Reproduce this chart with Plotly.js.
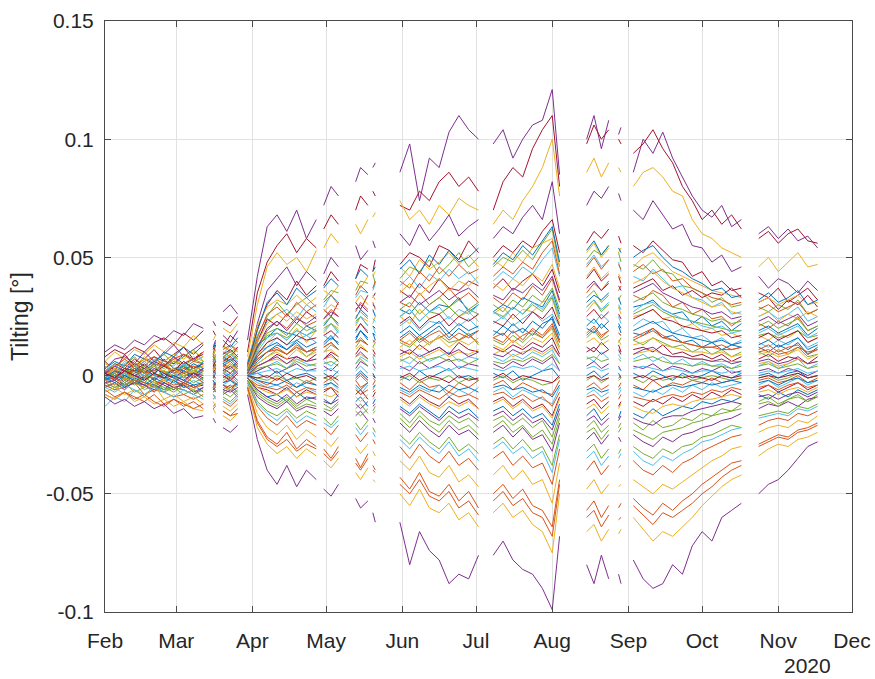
<!DOCTYPE html>
<html><head><meta charset="utf-8">
<script src="https://cdn.plot.ly/plotly-3.0.1.min.js"></script>
<style>html,body{margin:0;padding:0;background:#fff}#chart{width:875px;height:679px}</style>
</head><body><div id="chart"></div>
<script>
// Measurement days (offset in days from 2020-02-01), one array per continuous data block
const segFeb  = [0,4,8,12,16,20,24,28,32,36,40];
const segMar1 = [44,45];
const segMar2 = [48,51,54];
const segApr  = [58,62,66,70,74,78,82,86];
const segMay1 = [89,92,95];
const segMay2 = [102,104,107];
const segMay3 = [109,110];
const segJun  = [120,124,128,132,136,140,144,148,152];
const segJul  = [158,162,166,170,174,178,182,185];
const segAug1 = [196,199,202,205];
const segAug2 = [209,210];
const segSep  = [215,219,223,227,231,235,239,243,247,251,255,259];
const segNov  = [266,270,274,278,282,286,290];

// Tilting values in thousandths of a degree (mdeg), in the order of the blocks above
const s01 = [10,13,11,15,13,17,15,19,17,22,20, 23,21, 27,30,26, 15,42,63,68,61,70,58,66, 72,80,76, 82,88,85, 88,90, 86,98,74,92,88,103,110,104,100, 98,104,92,100,106,108,121,85, 100,110,96,108, 102,105, 86,100,94,103,92,84,76,70,67,72,63,66, 60,63,58,62,57,59,54];
const s02 = [8,11,9,12,10,14,16,13,18,15,19, 19,17, 23,21,25, 10,35,48,55,60,52,58,54, 62,68,64, 70,76,72, 78,76, 72,70,78,74,82,86,80,84,78, 70,82,88,84,96,104,110,80, 98,106,100,104, 100,98, 94,98,104,96,90,80,74,66,70,64,68,62, 58,61,56,60,62,57,56];
const s03 = [6,10,7,11,9,13,10,14,12,17,13, 15,17, 20,18,22, 8,30,46,52,47,50,44,53, 54,60,56, 64,60,66, 67,69, 74,66,70,64,72,68,75,72,70, 64,70,66,74,80,88,100,76, 86,92,84,90, 88,86, 80,86,88,84,78,76,66,60,58,54,52,50, 46,50,44,48,52,46,47];
const s04 = [3,7,8,5,10,6,9,13,8,11,14, 12,15, 17,14,19, 4,22,36,41,46,38,44,40, 43,50,46, 55,49,53, 57,54, 60,55,64,57,62,68,59,63,66, 58,63,60,67,72,66,82,60, 72,78,75,80, 77,74, 70,66,74,68,62,64,55,54,48,51,44,46, 42,37,41,39,35,40,36];
const s05 = [6,2,9,4,7,11,6,9,12,7,10, 9,13, 12,17,14, 3,20,30,36,32,40,34,38, 38,44,40, 41,47,45, 44,49, 47,52,50,46,55,53,49,57,52, 50,55,52,57,54,61,66,52, 56,61,58,62, 59,56, 55,52,57,53,49,48,42,44,38,40,36,37, 35,33,37,31,34,37,32];
const s06 = [1,5,4,8,3,6,9,5,8,11,6, 8,11, 13,10,12, 5,17,25,31,26,30,33,29, 32,36,35, 36,40,39, 43,39, 41,46,44,49,43,47,52,46,50, 46,50,48,53,49,56,62,46, 49,53,51,55, 52,48, 47,45,49,44,43,38,37,35,31,33,29,30, 29,27,30,28,32,26,28];
const s07 = [4,1,6,3,2,7,5,4,9,6,8, 6,9, 9,13,11, 4,15,23,26,28,24,30,27, 29,34,31, 33,36,35, 36,39, 38,42,37,43,40,45,41,44,39, 40,44,41,46,43,49,54,42, 47,51,46,49, 48,44, 42,40,45,41,37,38,33,32,29,31,26,27, 25,27,24,26,29,23,25];
const s08 = [2,5,3,7,4,8,6,5,9,7,10, 8,6, 10,8,12, 2,14,24,21,26,22,27,24, 28,25,31, 31,28,34, 33,35, 36,33,39,35,41,37,36,40,38, 37,41,36,40,43,38,45,35, 41,45,40,43, 42,39, 37,39,41,36,38,34,36,33,35,34,37,33, 31,33,28,32,30,34,29];
const s09 = [-1,3,2,6,1,5,4,8,3,6,5, 7,4, 7,11,8, 2,12,19,23,20,25,21,23, 24,28,25, 27,31,28, 31,28, 31,29,35,30,33,37,32,35,31, 33,30,35,32,38,34,41,31, 35,39,36,40, 36,38, 34,32,36,34,29,31,26,28,24,25,21,24, 22,20,23,21,25,19,21];
const s10 = [2,-1,5,2,3,0,7,3,4,1,6, 6,4, 8,6,9, 1,13,16,20,18,17,21,19, 21,25,22, 24,28,25, 28,25, 28,26,31,27,30,29,33,27,30, 27,30,28,33,31,29,36,26, 31,34,32,35, 33,30, 29,30,32,28,26,27,22,25,21,23,19,22, 19,21,18,20,22,17,20];
const s11 = [0,2,-2,5,3,2,4,7,1,5,3, 4,6, 5,9,7, 1,8,14,18,15,20,14,19, 18,22,20, 21,25,23, 22,25, 25,22,28,24,26,29,25,27,23, 26,29,24,28,27,31,33,22, 27,31,28,30, 29,26, 25,26,28,24,25,20,22,19,20,17,18,16, 17,15,18,16,19,14,16];
const s12 = [3,0,1,4,-1,3,2,-1,5,1,3, 5,3, 4,7,6, 1,10,12,16,13,15,17,14, 17,15,19, 18,22,19, 21,18, 21,24,19,23,22,25,21,24,20, 22,25,21,24,27,23,26,21, 24,22,26,23, 25,22, 21,24,22,23,18,20,16,17,14,16,13,15, 14,12,15,13,16,12,14];
const s13 = [-2,1,3,0,2,5,-1,2,4,0,3, 2,4, 5,3,6, 0,6,10,13,11,14,10,12, 13,16,14, 15,19,16, 18,15, 16,19,15,18,21,16,20,17,19, 17,21,18,20,17,22,24,15, 20,18,22,19, 21,18, 18,17,20,16,17,14,15,12,14,11,13,12, 12,10,13,11,14,9,12];
const s14 = [2,-1,0,3,1,-2,2,0,4,2,1, 3,1, 2,5,3, 0,5,8,11,9,12,8,11, 10,13,11, 12,15,13, 12,14, 14,12,16,13,17,14,15,18,13, 15,13,17,14,18,16,20,12, 16,19,15,17, 14,16, 15,13,16,14,12,13,10,12,9,11,8,10, 10,8,11,9,12,8,9];
const s15 = [0,2,-2,1,3,0,-1,3,1,-1,2, 1,3, 3,1,4, 0,4,6,9,7,8,6,9, 7,10,8, 9,12,10, 11,9, 11,9,13,10,12,9,14,11,10, 12,10,13,11,14,12,16,9, 12,10,14,11, 13,10, 11,12,10,13,9,10,8,9,7,9,6,8, 7,9,6,8,7,5,8];
const s16 = [-13,-9,-11,-6,-9,-4,-7,-2,-5,0,-3, 0,2, 2,0,3, -1,2,4,6,3,7,5,4, 6,4,7, 5,8,6, 8,5, 7,5,9,6,8,10,6,8,7, 8,6,9,7,10,8,11,5, 8,6,10,7, 9,7, 7,9,6,8,5,7,4,6,4,5,3,5, 4,6,3,5,7,3,5];
const s17 = [-1,1,-3,0,2,-2,1,-1,-3,1,0, -1,1, 1,-1,2, 0,2,4,1,3,5,2,3, 4,2,5, 3,6,4, 5,3, 4,2,6,3,5,7,3,5,4, 5,3,6,4,7,5,8,2, 4,6,3,5, 4,2, 4,3,5,2,4,3,1,3,2,4,1,2, 2,3,1,3,2,0,2];
const s18 = [1,-1,0,2,-2,1,-1,-3,0,1,-2, 0,-1, -1,1,-2, 0,1,-1,2,-2,0,1,-1, 1,-1,2, 0,2,-1, 1,-1, 0,-2,2,-1,1,3,-1,0,-2, 1,-1,2,-2,0,2,3,-1, 0,2,-1,1, 1,-1, 1,-1,2,0,-2,1,-1,0,2,0,-1,1, 0,1,-1,1,2,-1,0];
const s19 = [0,-2,1,-3,0,-4,-1,-2,-4,0,-3, -2,-4, -3,-1,-4, 0,-2,-4,-1,-3,-5,-2,-4, -3,-1,-4, -2,-5,-3, -4,-2, -3,-6,-2,-5,-4,-7,-3,-5,-2, -4,-2,-6,-3,-5,-7,-8,-2, -5,-3,-6,-4, -5,-3, -4,-6,-2,-5,-3,-4,-2,-3,-1,-3,-2,-1, -2,-1,-3,-2,0,-3,-1];
const s20 = [-3,0,-4,-1,-2,-5,-1,-3,-5,-2,-4, -3,-5, -4,-2,-5, 0,-3,-5,-4,-6,-3,-5,-7, -5,-3,-6, -5,-8,-4, -6,-4, -6,-8,-5,-7,-4,-9,-6,-8,-5, -7,-5,-9,-6,-8,-10,-12,-5, -8,-6,-9,-7, -8,-6, -7,-9,-6,-8,-5,-7,-4,-6,-3,-5,-4,-3, -4,-2,-5,-3,-1,-4,-2];
const s21 = [-2,-4,-1,-3,-5,-2,-4,-6,-3,-5,-4, -5,-3, -4,-6,-3, -1,-5,-6,-8,-5,-9,-6,-8, -7,-5,-9, -8,-6,-10, -9,-7, -9,-12,-8,-11,-13,-9,-12,-10,-14, -11,-9,-13,-10,-14,-12,-17,-9, -12,-10,-14,-11, -13,-11, -11,-13,-10,-12,-9,-11,-8,-10,-7,-9,-6,-8, -6,-4,-7,-5,-3,-6,-4];
const s22 = [-2,0,-5,-1,-3,-4,-6,-2,-5,-4,-7, -5,-7, -6,-4,-7, -1,-6,-9,-8,-11,-7,-10,-9, -10,-12,-8, -11,-9,-13, -12,-10, -13,-16,-12,-15,-18,-13,-16,-14,-18, -15,-13,-17,-14,-18,-16,-21,-12, -17,-14,-19,-16, -18,-15, -16,-18,-14,-17,-15,-13,-14,-11,-12,-10,-11,-9, -8,-10,-7,-9,-6,-8,-6];
const s23 = [-3,-5,-2,-4,-1,-3,-5,-7,-4,-6,-3, -6,-4, -7,-5,-8, -1,-7,-10,-12,-9,-13,-10,-12, -12,-14,-11, -14,-12,-16, -15,-13, -16,-20,-15,-19,-21,-17,-20,-18,-22, -19,-17,-21,-18,-22,-19,-26,-16, -22,-19,-24,-21, -22,-20, -20,-23,-19,-22,-21,-18,-19,-16,-17,-14,-15,-12, -11,-9,-12,-10,-8,-11,-8];
const s24 = [-5,-3,-6,-2,-4,-7,-3,-5,-6,-8,-5, -7,-6, -8,-6,-9, -2,-9,-12,-14,-11,-15,-13,-14, -15,-17,-14, -17,-15,-19, -18,-20, -20,-24,-19,-23,-26,-21,-25,-23,-27, -24,-21,-26,-22,-27,-25,-32,-20, -27,-24,-29,-25, -26,-28, -25,-28,-30,-26,-28,-25,-24,-22,-21,-19,-18,-16, -14,-12,-13,-11,-13,-10,-9];
const s25 = [-4,-6,-3,-7,-5,-2,-6,-5,-8,-6,-9, -8,-9, -9,-11,-8, -2,-11,-15,-17,-14,-18,-15,-17, -18,-21,-17, -20,-23,-19, -22,-24, -25,-29,-24,-28,-31,-26,-32,-29,-33, -29,-26,-31,-27,-32,-30,-38,-25, -32,-29,-35,-31, -33,-31, -30,-33,-35,-31,-33,-30,-29,-26,-25,-23,-21,-22, -17,-16,-15,-16,-13,-14,-12];
const s26 = [-4,-6,-5,-3,-8,-6,-7,-9,-8,-10,-8, -10,-9, -11,-13,-10, -3,-13,-18,-21,-17,-22,-19,-21, -22,-25,-21, -25,-28,-24, -27,-29, -30,-35,-29,-34,-37,-32,-38,-35,-40, -35,-32,-38,-34,-39,-37,-46,-31, -40,-36,-42,-38, -39,-38, -36,-40,-42,-38,-41,-37,-35,-32,-30,-28,-26,-25, -21,-19,-18,-19,-16,-17,-15];
const s27 = [-7,-5,-8,-6,-9,-4,-10,-8,-11,-9,-12, -11,-13, -13,-15,-12, -4,-16,-22,-25,-21,-27,-23,-26, -27,-30,-26, -30,-33,-29, -32,-34, -36,-40,-34,-41,-43,-38,-45,-42,-47, -42,-38,-44,-40,-46,-44,-54,-37, -48,-44,-50,-46, -47,-46, -44,-47,-50,-46,-48,-45,-42,-39,-36,-34,-31,-30, -24,-22,-21,-22,-19,-20,-17];
const s28 = [-8,-10,-7,-9,-11,-8,-12,-10,-13,-11,-14, -13,-12, -15,-17,-14, -5,-19,-26,-29,-24,-31,-27,-30, -31,-35,-30, -35,-39,-33, -38,-40, -43,-48,-41,-49,-51,-46,-53,-49,-56, -50,-46,-52,-48,-55,-57,-64,-44, -57,-53,-60,-55, -56,-54, -52,-56,-59,-54,-57,-53,-50,-46,-43,-40,-37,-36, -29,-27,-25,-26,-23,-22,-20];
const s29 = [-8,-10,-7,-11,-9,-12,-10,-13,-11,-14,-15, -14,-16, -17,-19,-16, -6,-22,-29,-33,-30,-35,-31,-34, -36,-39,-35, -41,-44,-39, -44,-45, -50,-55,-48,-56,-58,-54,-61,-58,-64, -58,-54,-60,-57,-63,-66,-75,-50, -66,-63,-70,-65, -67,-65, -60,-65,-70,-66,-68,-64,-60,-55,-51,-47,-44,-42, -34,-31,-29,-30,-27,-26,-24];
const s30 = [-9,-12,-10,-13,-11,-14,-12,-16,-14,-18,-17, -18,-20, -22,-24,-21, -8,-27,-40,-46,-38,-47,-40,-44, -48,-51,-46, -52,-56,-53, -58,-62, -62,-80,-66,-74,-78,-88,-84,-86,-76, -76,-70,-78,-82,-84,-90,-99,-68, -80,-88,-76,-86, -84,-88, -78,-86,-90,-88,-80,-84,-72,-66,-70,-60,-57,-54, -50,-46,-44,-40,-35,-30,-28];
const s31 = [5,3,7,4,8,5,6,9,7,10,8, 9,11, 12,11,14, 6,21,29,32,30,34,30,33, 36,34,38, 40,37,42, 42,44, 46,42,49,45,48,52,47,51,46, 49,46,52,48,54,56,58,46, 52,56,50,54, 52,54, 46,50,52,48,44,42,40,38,36,35,34,33, 31,33,30,32,34,30,31];
const s32 = [2,0,3,-1,4,1,5,2,6,3,4, 5,4, 7,6,8, 3,12,17,18,16,19,17,19, 20,22,19, 23,25,21, 24,23, 25,28,23,27,26,29,25,28,26, 27,25,29,26,30,27,33,24, 29,32,27,30, 29,28, 26,28,30,27,25,24,23,22,21,20,19,19, 17,18,16,17,19,16,17];
const s33 = [1,3,-1,2,0,4,1,3,-1,4,2, 3,2, 4,3,5, 1,7,10,11,9,12,10,11, 12,14,11, 14,15,13, 14,15, 15,13,17,14,16,18,15,17,14, 16,18,14,17,19,16,21,14, 17,20,16,19, 18,17, 15,17,19,16,15,14,13,12,12,11,11,12, 10,11,9,10,12,10,11];
const s34 = [-1,1,-2,0,-3,1,-1,-2,0,-3,-1, -1,-2, -2,0,-3, 0,-1,-2,0,-2,-1,-3,-1, -1,-2,0, -2,0,-3, -1,-2, -2,0,-3,-1,-2,0,-3,-1,-2, -2,0,-3,-1,-2,-4,-3,-1, -2,0,-3,-1, -2,-1, -1,-3,0,-2,-1,0,-2,-1,0,-1,-2,-1, -1,0,-2,-1,1,-1,0];
const s35 = [0,2,-1,3,1,-1,2,0,3,1,2, 2,3, 2,4,3, 0,4,6,7,5,7,6,7, 7,8,6, 8,9,7, 8,9, 8,10,7,9,11,8,10,9,11, 9,11,8,10,11,9,12,8, 10,12,9,11, 10,9, 9,10,11,9,8,8,7,7,6,6,6,6, 5,6,4,5,7,5,6];
const s36 = [-6,-9,-7,-10,-8,-11,-13,-10,-12,-14,-12, -14,-13, -15,-17,-16, -5,-20,-27,-30,-27,-32,-29,-31, -33,-36,-32, -37,-40,-35, -40,-41, -46,-50,-44,-51,-53,-49,-56,-53,-59, -53,-49,-55,-52,-58,-60,-68,-46, -60,-57,-64,-59, -61,-60, -55,-59,-63,-58,-60,-57,-54,-50,-47,-43,-40,-38, -30,-28,-26,-27,-24,-23,-21];
const s37 = [3,6,4,9,7,5,10,8,12,9,13, 11,14, 15,12,16, 5,19,31,35,30,37,33,36, 37,41,38, 41,45,42, 44,46, 45,49,43,51,47,53,48,50,54, 47,52,49,55,51,57,63,48, 53,57,51,55, 54,52, 50,53,55,50,46,44,41,39,36,37,33,34, 32,35,31,33,36,30,32];
const s38 = [2,4,7,3,6,8,4,7,9,6,10, 9,8, 11,13,10, 4,16,26,29,25,31,27,30, 31,34,30, 34,38,35, 37,40, 40,37,44,40,46,42,47,43,45, 42,46,43,48,45,52,57,43, 46,50,45,49, 47,45, 44,47,43,45,40,41,37,35,33,32,30,31, 28,30,27,29,31,26,28];
const s39 = [4,1,5,3,7,4,2,6,5,8,6, 7,9, 10,8,11, 3,14,22,26,23,27,24,26, 27,30,28, 31,34,30, 34,32, 35,39,34,38,41,36,40,38,42, 39,36,41,38,43,40,47,37, 42,46,41,44, 43,41, 39,41,44,40,37,35,33,31,29,30,27,26, 25,27,23,26,24,27,25];
const s40 = [1,4,2,5,3,6,4,8,5,7,9, 8,7, 9,11,8, 2,12,20,23,19,24,22,25, 24,27,25, 28,30,27, 30,29, 31,34,30,33,36,32,35,37,33, 34,32,37,35,39,36,42,32, 37,40,36,39, 38,36, 35,37,39,35,33,31,29,28,26,27,24,25, 23,25,22,24,26,21,23];
const s41 = [0,3,1,4,2,5,3,6,4,7,5, 6,8, 8,10,7, 2,11,18,20,17,22,19,21, 22,25,21, 25,27,24, 27,26, 28,31,26,30,33,29,32,28,31, 30,27,32,29,34,31,37,28, 33,36,31,34, 32,34, 31,33,35,31,29,28,26,25,23,24,22,23, 21,23,20,22,24,19,21];
const s42 = [2,5,0,3,6,2,4,1,5,3,6, 5,7, 7,9,6, 1,10,16,18,15,19,17,20, 19,22,18, 22,25,21, 24,23, 25,28,23,27,29,24,28,26,30, 27,24,29,26,31,28,34,25, 29,32,28,31, 30,28, 27,30,31,28,26,24,23,21,20,21,18,19, 18,20,17,19,21,16,18];
const s43 = [1,-1,3,2,5,1,4,2,6,3,5, 4,6, 6,8,5, 1,9,14,16,13,17,15,16, 17,19,16, 19,22,18, 21,20, 22,25,20,24,26,21,25,23,26, 23,21,26,22,27,24,29,21, 25,28,24,27, 26,24, 24,26,28,24,23,21,20,19,18,19,16,17, 16,18,15,17,19,14,16];
const s44 = [-1,2,0,3,1,4,0,3,2,5,3, 4,3, 5,7,4, 1,8,12,14,11,15,12,14, 14,17,13, 16,19,15, 18,17, 18,21,17,20,23,18,22,19,21, 19,17,22,18,23,20,25,17, 21,24,20,23, 22,20, 19,21,23,20,18,17,16,15,14,15,13,14, 13,15,12,14,16,11,13];
const s45 = [2,0,-1,3,1,2,5,1,3,4,2, 3,5, 4,6,3, 1,7,10,12,9,13,10,12, 12,14,11, 14,16,13, 15,14, 15,18,14,17,19,15,18,16,19, 16,14,19,15,20,17,22,14, 18,21,17,19, 18,17, 16,18,20,17,15,14,13,12,12,13,11,12, 11,13,10,12,13,9,11];
const s46 = [0,3,1,-1,2,4,1,3,0,2,4, 2,4, 3,5,2, 0,5,8,10,7,11,8,10, 10,11,8, 11,13,10, 12,11, 12,15,11,14,16,12,15,13,16, 13,11,15,12,16,14,18,11, 14,16,13,15, 15,13, 13,14,16,13,12,11,10,10,9,10,8,9, 9,10,8,9,11,7,9];
const s47 = [1,-2,2,0,-1,3,1,-1,2,0,3, 2,1, 2,4,1, 0,4,6,8,5,8,6,7, 7,9,6, 8,10,7, 9,8, 9,11,8,10,12,9,11,8,10, 9,8,11,9,12,10,13,8, 10,12,9,11, 11,9, 9,11,12,9,8,8,7,7,6,7,5,6, 6,7,5,6,8,5,6];
const s48 = [-1,1,-2,2,0,-1,2,-1,1,3,0, 1,2, 1,3,0, 0,3,4,5,3,6,4,5, 5,6,4, 5,7,4, 6,5, 6,8,5,7,8,6,7,5,7, 6,5,7,6,8,6,9,5, 7,8,6,7, 7,6, 6,7,8,6,5,5,4,5,4,4,3,4, 4,5,3,4,5,3,4];
const s49 = [0,-1,1,-2,1,0,-2,1,-1,0,2, 0,1, 1,0,2, 0,1,2,3,1,3,2,2, 2,3,1, 2,4,1, 3,2, 3,4,2,3,4,2,4,3,2, 3,2,4,3,4,2,5,2, 3,4,2,3, 3,2, 3,4,3,2,3,2,1,2,2,1,2,1, 1,2,1,2,3,1,2];
const s50 = [1,-1,2,0,-2,1,-1,0,-2,1,-1, 0,-1, 0,-2,1, 0,-1,0,-2,1,-1,0,-2, -1,0,-2, -1,1,-2, 0,-1, -1,1,-2,0,-1,-3,0,-2,-1, -1,1,-2,0,-1,-2,-3,0, -1,0,-2,-1, -1,0, -1,0,-2,-1,0,-1,0,-1,-2,0,-1,0, -1,0,-1,0,1,-1,0];
const s51 = [-1,-3,0,-2,-4,-1,-3,0,-2,-4,-3, -2,-4, -3,-2,-4, 0,-2,-3,-4,-2,-5,-3,-4, -4,-3,-5, -4,-6,-3, -5,-4, -5,-7,-4,-6,-7,-4,-6,-5,-7, -5,-4,-6,-5,-7,-6,-9,-4, -6,-5,-7,-6, -6,-5, -5,-6,-7,-5,-4,-5,-4,-3,-4,-3,-2,-3, -3,-2,-4,-2,-1,-3,-2];
const s52 = [-2,-1,-4,-2,-3,-5,-2,-4,-3,-5,-3, -4,-3, -4,-5,-3, -1,-4,-5,-6,-4,-7,-5,-6, -6,-5,-7, -6,-8,-6, -7,-6, -7,-9,-6,-8,-10,-7,-9,-8,-10, -8,-7,-10,-8,-11,-9,-13,-7, -9,-8,-11,-9, -10,-8, -9,-10,-11,-9,-8,-9,-7,-8,-6,-7,-5,-6, -5,-4,-6,-4,-3,-5,-4];
const s53 = [-2,-4,-1,-3,-5,-3,-2,-5,-4,-6,-3, -5,-4, -5,-6,-4, -1,-5,-7,-8,-6,-9,-7,-8, -8,-9,-7, -9,-11,-8, -10,-9, -10,-13,-9,-12,-14,-11,-13,-11,-14, -12,-10,-14,-11,-15,-13,-18,-10, -14,-12,-16,-13, -14,-12, -13,-15,-16,-13,-12,-13,-11,-10,-10,-9,-8,-9, -7,-6,-8,-6,-5,-7,-5];
const s54 = [-3,-2,-5,-3,-4,-6,-3,-5,-4,-7,-5, -6,-5, -6,-7,-5, -1,-6,-9,-11,-8,-12,-9,-10, -11,-12,-10, -12,-14,-11, -13,-12, -14,-17,-13,-16,-19,-15,-18,-16,-19, -17,-15,-19,-16,-20,-18,-23,-14, -19,-17,-21,-18, -19,-17, -18,-20,-21,-18,-17,-17,-15,-14,-13,-12,-11,-12, -9,-8,-10,-8,-7,-9,-7];
const s55 = [-3,-5,-4,-2,-6,-4,-7,-5,-6,-8,-6, -7,-6, -7,-9,-6, -2,-8,-11,-13,-10,-14,-12,-13, -14,-15,-12, -15,-17,-14, -16,-15, -18,-22,-17,-21,-24,-19,-23,-21,-25, -22,-19,-24,-21,-26,-23,-29,-18, -24,-22,-27,-23, -24,-22, -23,-25,-27,-24,-23,-22,-20,-19,-17,-16,-15,-14, -12,-11,-13,-10,-9,-11,-9];
const s56 = [-5,-7,-4,-6,-8,-5,-7,-9,-6,-8,-10, -8,-10, -10,-12,-9, -3,-12,-16,-19,-15,-20,-17,-19, -20,-22,-19, -22,-25,-21, -24,-26, -27,-31,-26,-30,-33,-28,-34,-31,-36, -31,-28,-33,-30,-35,-32,-41,-27, -35,-32,-38,-34, -35,-33, -32,-36,-38,-34,-36,-33,-31,-28,-27,-25,-23,-22, -18,-17,-16,-17,-14,-15,-13];

const seriesColors = ['#7E2F8E','#A2142F','#EDB120','#7E2F8E','#A2142F','#77AC30','#4DBEEE','#A2142F','#D95319','#0072BD',
  '#EDB120','#4DBEEE','#0072BD','#77AC30','#A2142F','#4DBEEE','#7E2F8E','#0072BD','#D95319','#4DBEEE',
  '#A2142F','#0072BD','#77AC30','#7E2F8E','#77AC30','#D95319','#EDB120','#D95319','#EDB120','#7E2F8E',
  '#EDB120','#77AC30','#D95319','#77AC30','#EDB120','#D95319',
  '#0072BD','#D95319','#EDB120','#7E2F8E','#77AC30','#4DBEEE','#A2142F','#0072BD','#D95319','#EDB120',
  '#7E2F8E','#77AC30','#4DBEEE','#A2142F','#0072BD','#D95319','#EDB120','#7E2F8E','#77AC30','#4DBEEE'];

const monthTicks  = ['2020-02-01','2020-03-01','2020-04-01','2020-05-01','2020-06-01','2020-07-01','2020-08-01','2020-09-01','2020-10-01','2020-11-01','2020-12-01'];
const monthLabels = ['Feb','Mar','Apr','May','Jun','Jul','Aug','Sep','Oct','Nov','Dec'];
const yTicks  = [-0.1,-0.05,0,0.05,0.1,0.15];
const yLabels = ['-0.1','-0.05','0','0.05','0.1','0.15'];

const segments = [segFeb,segMar1,segMar2,segApr,segMay1,segMay2,segMay3,segJun,segJul,segAug1,segAug2,segSep,segNov];
const allSeries = [s01,s02,s03,s04,s05,s06,s07,s08,s09,s10,s11,s12,s13,s14,s15,s16,s17,s18,s19,s20,
  s21,s22,s23,s24,s25,s26,s27,s28,s29,s30,s31,s32,s33,s34,s35,s36,s37,s38,s39,s40,
  s41,s42,s43,s44,s45,s46,s47,s48,s49,s50,s51,s52,s53,s54,s55,s56];

function dayToDate(d){
  const t = new Date(Date.UTC(2020,1,1) + d*86400000);
  return t.toISOString().slice(0,10);
}

const traces = allSeries.map((vals,i)=>{
  const x=[], y=[]; let k=0;
  segments.forEach((seg,si)=>{
    if(si>0){ x.push(dayToDate(seg[0]-1)); y.push(null); }
    seg.forEach(d=>{ x.push(dayToDate(d)); y.push(vals[k]/1000); k++; });
  });
  return {x:x, y:y, type:'scatter', mode:'lines', connectgaps:false,
          line:{color:seriesColors[i], width:1}, hoverinfo:'skip', showlegend:false};
});

const axisCol = '#4a4a4a';
const layout = {
  width:875, height:679,
  margin:{l:105, r:23, t:21, b:67, pad:0},
  paper_bgcolor:'#ffffff', plot_bgcolor:'#ffffff',
  font:{family:'"Liberation Sans", Arial, sans-serif', size:21, color:'#262626'},
  showlegend:false,
  xaxis:{type:'date', range:['2020-02-01','2020-12-01'], tickvals:monthTicks, ticktext:monthLabels,
    ticks:'inside', ticklen:6, tickcolor:axisCol, showline:true, linecolor:axisCol, linewidth:1, mirror:'ticks',
    showgrid:true, gridcolor:'#e2e2e2', gridwidth:1, zeroline:false, ticklabelstandoff:10, automargin:false},
  yaxis:{range:[-0.1,0.15], tickvals:yTicks, ticktext:yLabels,
    ticks:'inside', ticklen:6, tickcolor:axisCol, showline:true, linecolor:axisCol, linewidth:1, mirror:'ticks',
    showgrid:true, gridcolor:'#e2e2e2', gridwidth:1, zeroline:false, ticklabelstandoff:6, automargin:false,
    title:{text:'Tilting [°]', font:{size:23}, standoff:10}},
  annotations:[{text:'2020', xref:'paper', yref:'paper', x:0.941, y:-0.068, xanchor:'center', yanchor:'top',
    showarrow:false, font:{size:21, color:'#262626'}}]
};

Plotly.newPlot('chart', traces, layout, {displayModeBar:false, staticPlot:true});
</script>
</body></html>
